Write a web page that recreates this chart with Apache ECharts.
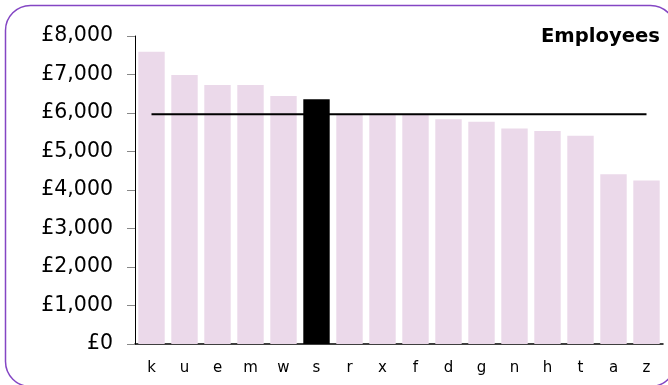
<!DOCTYPE html>
<html>
<head>
<meta charset="utf-8">
<script src="https://cdn.jsdelivr.net/npm/echarts@6/dist/echarts.min.js"></script>
<style>html,body{margin:0;padding:0;background:#fff}#c{width:668px;height:385px}</style>
</head>
<body>
<div id="c"></div>
<script>
const categories = ['k','u','e','m','w','s','r','x','f','d','g','n','h','t','a','z'];
const values = [7590, 6990, 6730, 6730, 6440, 6355, 5955, 5950, 5950, 5835, 5775, 5600, 5530, 5410, 4410, 4250];
const highlight = 's';
const averageValue = 5965;
const yTicks = [0, 1000, 2000, 3000, 4000, 5000, 6000, 7000, 8000];
const title = 'Employees';

const chart = echarts.init(document.getElementById('c'), null, {renderer: 'canvas'});
const font = 'DejaVu Sans, Verdana, sans-serif';
chart.setOption({
  animation: false,
  title: {text: title, right: 3, top: 22, textStyle: {fontFamily: font, fontWeight: 'bold', fontSize: 19.6, color: '#000'}},
  grid: {left: 135, right: 5, top: 36, bottom: 41},
  graphic: [{type: 'rect', shape: {x: 5.5, y: 5.5, width: 670, height: 381, r: 25}, style: {fill: 'none', stroke: '#8446c4', lineWidth: 1.5}, z: -1}],
  xAxis: {
    type: 'category', data: categories,
    axisLine: {lineStyle: {color: '#000', width: 1.5}},
    axisTick: {show: false},
    axisLabel: {fontFamily: font, fontSize: 15, color: '#000', margin: 17}
  },
  yAxis: {
    type: 'value', min: yTicks[0], max: yTicks[yTicks.length - 1], interval: 1000,
    axisLine: {show: true, lineStyle: {color: '#000', width: 1}},
    axisTick: {show: true, length: 8, lineStyle: {color: '#888'}},
    splitLine: {show: false},
    axisLabel: {fontFamily: font, fontSize: 20.5, color: '#000', margin: 22,
      formatter: v => '£' + v.toLocaleString('en-GB')}
  },
  series: [
    {type: 'bar', data: values.map((v, i) => ({value: v, itemStyle: {color: categories[i] === highlight ? '#000' : '#ebd9ea'}})),
     barCategoryGap: '20%'},
    {type: 'line', data: categories.map(() => averageValue), symbol: 'none',
     lineStyle: {color: '#000', width: 2}, z: 5}
  ]
});
</script>
</body>
</html>
